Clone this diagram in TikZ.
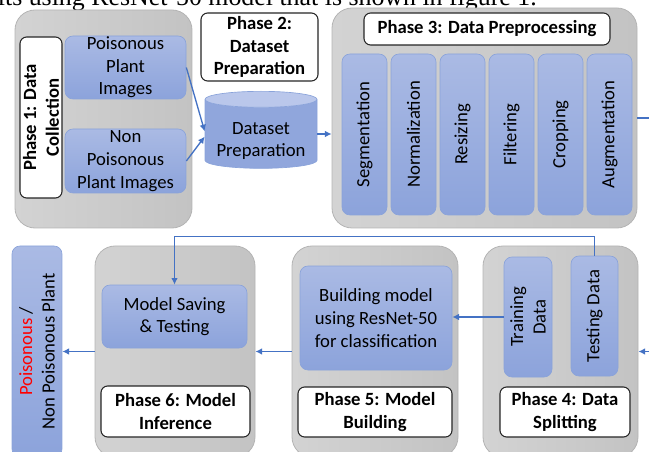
\documentclass[tikz,border=0pt]{standalone}
\usepackage{fontspec}
\setmainfont{Carlito}
\newfontfamily\bodyserif{Liberation Serif}
\usetikzlibrary{arrows.meta,shapes.geometric}

\definecolor{panelL}{HTML}{D3D3D3}
\definecolor{panelR}{HTML}{C3C3C3}
\definecolor{panelEdge}{HTML}{B4B4B4}
\definecolor{blueL}{HTML}{AABAE4}
\definecolor{blueD}{HTML}{8CA3DB}
\definecolor{blueEdge}{HTML}{8AA3DA}
\definecolor{capTop}{HTML}{BAC7EB}
\definecolor{linkBlue}{HTML}{4472C4}

\begin{document}
\begin{tikzpicture}[x=0.75pt,y=-0.75pt,
  panel/.style={draw=panelEdge, line width=0.6pt, rounded corners=15pt,
    left color=panelL, right color=panelR},
  blk/.style={draw=blueEdge, line width=0.5pt, rounded corners=6pt,
    top color=blueL, bottom color=blueD, align=center, inner sep=0pt,
    font=\fontsize{14}{17}\selectfont},
  tag/.style={draw=black!85, line width=0.8pt, fill=white, rounded corners=5pt,
    align=center, inner sep=0pt, font=\bfseries\fontsize{14}{17}\selectfont},
  sz/.style 2 args={minimum width=#1*0.75pt, minimum height=#2*0.75pt},
  link/.style={draw=linkBlue, line width=1pt, -{Latex[length=5pt,width=5pt]}},
]
\path[use as bounding box, clip] (0,0) rectangle (649,452);

% caption line of the surrounding text
\node[font=\bodyserif\fontsize{19.4}{22}\selectfont, anchor=base east, inner sep=0pt]
  (caption) at (537,6) {its using ResNet-50 model that is shown in figure 1.};

% ---------------- phase panels ----------------
\node[panel, sz={177}{218}] (p1) at (103.5,119) {};
\node[panel, sz={305}{220}] (p3) at (484.5,118) {};
\node[panel, sz={155}{211}] (p4) at (560.5,351.5) {};
\node[panel, sz={166}{211}] (p5) at (375,351.5) {};
\node[panel, sz={160}{211}] (p6) at (175,351.5) {};

% ---------------- phase 1: data collection ----------------
\node[tag, rotate=90, sz={161}{42}] (t1) at (41,117.5) {Phase 1: Data\\Collection};
\node[blk, sz={121}{63}] (poison) at (125.5,67.5) {Poisonous\\Plant\\Images};
\node[blk, sz={121}{64}] (nonpoison) at (125.5,161) {Non\\Poisonous\\Plant Images};

% ---------------- phase 2: dataset preparation ----------------
\node[tag, sz={117}{68}] (t2) at (259.5,47) {Phase 2:\\Dataset\\Preparation};
\node[cylinder, shape border rotate=90, aspect=0.18, draw=blueEdge, line width=0.5pt,
  cylinder uses custom fill, cylinder body fill=blueD!85!blueL, cylinder end fill=capTop,
  sz={112}{77}, inner sep=0pt, align=center, font=\fontsize{14}{17}\selectfont]
  (cyl) at (261,134) {\phantom{Dataset}\\\phantom{Preparation}};
\node[align=center, inner sep=0pt, font=\fontsize{14}{17}\selectfont]
  (cyltext) at (261,141) {Dataset\\Preparation};

% ---------------- phase 3: data preprocessing ----------------
\node[tag, sz={246}{32}] (t3) at (487,29) {Phase 3: Data Preprocessing};
\node[blk, rotate=90, sz={161}{45}] (seg)  at (364.5,134.5) {Segmentation};
\node[blk, rotate=90, sz={161}{45}] (norm) at (413.5,134.5) {Normalization};
\node[blk, rotate=90, sz={161}{45}] (res)  at (462.5,134.5) {Resizing};
\node[blk, rotate=90, sz={161}{45}] (filt) at (511.5,134.5) {Filtering};
\node[blk, rotate=90, sz={161}{45}] (crop) at (560.5,134.5) {Cropping};
\node[blk, rotate=90, sz={161}{45}] (aug)  at (609.5,134.5) {Augmentation};

% ---------------- phase 4: data splitting ----------------
\node[blk, rotate=90, sz={120}{48}] (train) at (528,317) {Training\\Data};
\node[blk, rotate=90, sz={120}{47}] (test) at (594.5,316) {Testing Data};
\node[tag, sz={130}{50}] (t4) at (565,412) {Phase 4: Data\\Splitting};

% ---------------- phase 5: model building ----------------
\node[blk, sz={152}{104}] (build) at (376,318) {Building model\\using ResNet-50\\for classification};
\node[tag, sz={154}{50}] (t5) at (375,412) {Phase 5: Model\\Building};

% ---------------- phase 6: model inference ----------------
\node[blk, sz={145}{63}] (save) at (174.5,316.5) {Model Saving\\\& Testing};
\node[tag, sz={149}{51}] (t6) at (175.5,411.5) {Phase 6: Model\\Inference};

% ---------------- result ----------------
\node[blk, rotate=90, sz={211}{50}] (out) at (37,351.5)
  {{\color{red}Poisonous} /\\Non Poisonous Plant};

% ---------------- connectors ----------------
\draw[link] (poison.east) -- ([yshift=2pt]cyl.west);
\draw[link] (nonpoison.east) -- ([yshift=-2pt]cyl.west);
\draw[link] (cyl.east) -- (cyl.east -| p3.west);
\draw[link] (p3.east) -- ++(25,0) |- (p4.east);
\draw[link] (test.east) -- ++(0,-19) -| (save.north);
\draw[link] (train.north) -- (train.north -| build.east);
\draw[link] (p5.west) -- (p6.east);
\draw[link] (p6.west) -- (out.south);
\end{tikzpicture}
\end{document}
